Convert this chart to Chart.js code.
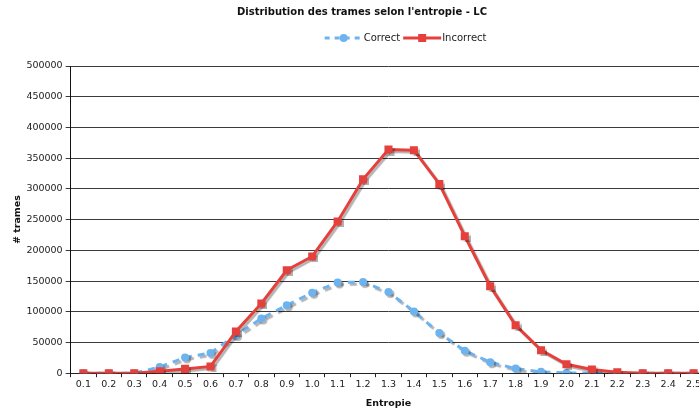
<!DOCTYPE html>
<html>
<head>
<meta charset="utf-8">
<script src="https://cdn.jsdelivr.net/npm/chart.js@4"></script>
<style>
  html, body { margin: 0; padding: 0; background: #fff; overflow: hidden; }
  #wrap { width: 699px; height: 414px; overflow: hidden; }
  #box { width: 712px; height: 414px; }
</style>
</head>
<body>
<div id="wrap"><div id="box"><canvas id="entropyChart"></canvas></div></div>
<script>
// valeurs d'entropie (axe X)
const categories = ["0.1","0.2","0.3","0.4","0.5","0.6","0.7","0.8","0.9","1.0","1.1","1.2","1.3",
  "1.4","1.5","1.6","1.7","1.8","1.9","2.0","2.1","2.2","2.3","2.4","2.5"];
// nombre de trames par classe
const correctValues = [0, 0, 0, 10000, 25500, 33000, 62000, 89000, 110500, 131000, 147500, 148500, 132000,
  100500, 65500, 36500, 18000, 7500, 2200, 500, 0, 0, 0, 0, 0];
const incorrectValues = [0, 0, 0, 3000, 7000, 11000, 68000, 113500, 167500, 190000, 247000, 315500, 364000,
  363000, 308000, 223000, 141500, 78000, 37500, 14500, 6000, 1500, 0, 0, 0];
const yTicks = [0, 50000, 100000, 150000, 200000, 250000, 300000, 350000, 400000, 450000, 500000];

const BLUE = "#6db3f0";
const RED = "#e5413c";
const FONT = "'DejaVu Sans', Verdana, sans-serif";

// ombre portée sous les courbes (style Excel)
const shadowPlugin = {
  id: "shadow",
  beforeDatasetsDraw(chart) {
    const ctx = chart.ctx;
    ctx.save();
    ctx.shadowColor = "rgba(0,0,0,0.3)";
    ctx.shadowOffsetX = 2;
    ctx.shadowOffsetY = 2;
    ctx.shadowBlur = 1;
  },
  afterDatasetsDraw(chart) { chart.ctx.restore(); }
};

// légende maison : trait + marqueur + texte
const legendPlugin = {
  id: "lineLegend",
  afterDraw(chart) {
    const ctx = chart.ctx;
    const y = 38;
    let x = chart.chartArea.left + 254;
    ctx.save();
    ctx.font = "10px " + FONT;
    ctx.textBaseline = "middle";
    // Correct
    ctx.strokeStyle = BLUE; ctx.lineWidth = 3; ctx.setLineDash([5, 5]);
    ctx.beginPath(); ctx.moveTo(x, y); ctx.lineTo(x + 38, y); ctx.stroke();
    ctx.setLineDash([]);
    ctx.fillStyle = BLUE;
    ctx.beginPath(); ctx.arc(x + 19, y, 4, 0, Math.PI * 2); ctx.fill();
    ctx.fillStyle = "#222";
    ctx.fillText("Correct", x + 39, y);
    x += 39 + ctx.measureText("Correct").width + 3;
    // Incorrect
    ctx.strokeStyle = RED; ctx.lineWidth = 3;
    ctx.beginPath(); ctx.moveTo(x, y); ctx.lineTo(x + 38, y); ctx.stroke();
    ctx.fillStyle = RED;
    ctx.fillRect(x + 15, y - 4, 8, 8);
    ctx.fillStyle = "#222";
    ctx.fillText("Incorrect", x + 39, y);
    ctx.restore();
  }
};

new Chart(document.getElementById("entropyChart"), {
  type: "line",
  data: {
    labels: categories,
    datasets: [
      {
        label: "Correct",
        data: correctValues,
        borderColor: BLUE,
        backgroundColor: BLUE,
        borderWidth: 3,
        borderDash: [7, 6],
        pointStyle: "circle",
        pointRadius: 4,
        pointBorderWidth: 0,
        tension: 0,
        order: 2
      },
      {
        label: "Incorrect",
        data: incorrectValues,
        borderColor: RED,
        backgroundColor: RED,
        borderWidth: 3,
        pointStyle: "rect",
        pointRadius: 5.7,
        pointBorderWidth: 0,
        tension: 0,
        order: 1
      }
    ]
  },
  options: {
    responsive: true,
    maintainAspectRatio: false,
    animation: false,
    layout: { padding: { left: 12, right: 0, top: 4, bottom: 5 } },
    plugins: {
      legend: { display: false },
      tooltip: { enabled: false },
      title: {
        display: true,
        text: "Distribution des trames selon l'entropie - LC",
        font: { family: FONT, size: 10, weight: "bold" },
        color: "#111",
        padding: { top: 2, bottom: 48 }
      }
    },
    scales: {
      x: {
        offset: true,
        grid: { offset: true, drawOnChartArea: false, tickLength: 4, color: "#222" },
        border: { color: "#222" },
        ticks: { font: { family: FONT, size: 9.5 }, color: "#222", maxRotation: 0, autoSkip: false, padding: 2 },
        title: { display: true, text: "Entropie", font: { family: FONT, size: 9.5, weight: "bold" }, color: "#111", padding: { top: 5, bottom: 0 } }
      },
      y: {
        min: 0,
        max: 500000,
        afterBuildTicks(axis) { axis.ticks = yTicks.map(v => ({ value: v })); },
        grid: { color: "#3a3a3a", tickLength: 5 },
        border: { color: "#111" },
        ticks: { font: { family: FONT, size: 9.5 }, color: "#222", padding: 3, callback: v => String(v) },
        title: { display: true, text: "# trames", font: { family: FONT, size: 9.5, weight: "bold" }, color: "#111", padding: 0 }
      }
    }
  },
  plugins: [shadowPlugin, legendPlugin]
});
</script>
</body>
</html>
